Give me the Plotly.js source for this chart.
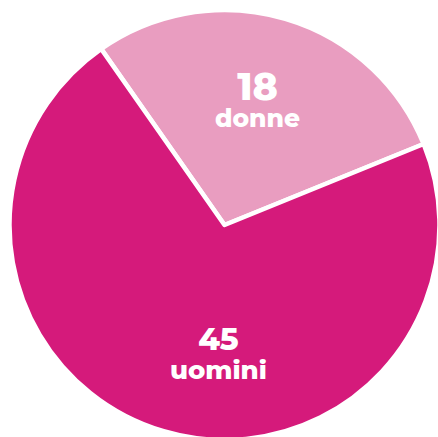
<!DOCTYPE html>
<html><head><meta charset="utf-8">
<script src="https://cdn.plot.ly/plotly-3.0.1.min.js"></script>
<style>html,body{margin:0;padding:0;overflow:hidden;background:#fff}#chart{width:440px;height:440px}</style>
</head><body><div id="chart"></div>
<script>
const labels = ["donne", "uomini"];
const values = [18, 45];
const colors = ["#E99DC0", "#D51A7B"];

const W = 440, H = 440;
const cx = 225, cy = 226, r = 216;

const data = [{
  type: "pie",
  labels: labels,
  values: values,
  sort: false,
  direction: "clockwise",
  rotation: -35,
  marker: {colors: colors, line: {color: "#ffffff", width: 4.5}},
  textinfo: "none",
  hoverinfo: "none",
  showlegend: false,
  domain: {x: [(cx - r) / W, (cx + r) / W], y: [(H - cy - r) / H, (H - cy + r) / H]}
}];

const labelPos = [{x: 257, y: 98}, {x: 218, y: 353}];
const numSize = [38, 31];
const labSize = [25, 26];
const baseSize = [21, 22];
const annotations = labels.map((lab, i) => ({
  xref: "paper", yref: "paper",
  x: labelPos[i].x / W, y: 1 - labelPos[i].y / H,
  text: '<span style="font-size:' + numSize[i] + 'px">' + values[i] + '</span><br>' +
        '<span style="font-size:' + labSize[i] + 'px">' + lab + '</span>',
  showarrow: false,
  xanchor: "center", yanchor: "middle",
  font: {family: "Montserrat, 'Open Sans', sans-serif", size: baseSize[i], color: "#ffffff", weight: 800}
}));

const layout = {
  width: W, height: H,
  margin: {l: 0, r: 0, t: 0, b: 0},
  paper_bgcolor: "#ffffff",
  annotations: annotations
};

Plotly.newPlot("chart", data, layout, {displayModeBar: false, staticPlot: true});
</script>
</body></html>
